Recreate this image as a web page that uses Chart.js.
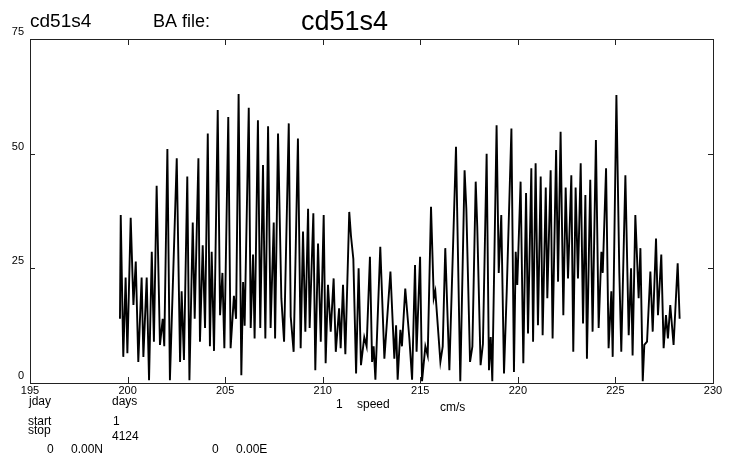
<!DOCTYPE html>
<html>
<head>
<meta charset="utf-8">
<script src="https://cdn.jsdelivr.net/npm/chart.js@4.4.0/dist/chart.umd.min.js"></script>
<style>
  body { margin: 0; background: #fff; }
  #wrap { width: 731px; height: 463px; }
</style>
</head>
<body>
<div id="wrap"><canvas id="chart"></canvas></div>
<script>
// speed record (day of year, cm/s)
const days = [
  199.61,199.65,199.78,199.90,199.99,200.16,200.30,200.42,200.55,200.72,200.81,200.98,201.10,201.24,201.35,201.49,201.66,201.80,201.88,202.04,202.17,202.52,202.69,202.77,202.89,203.06,203.17,203.34,203.44,203.63,203.71,203.85,203.97,204.11,204.22,204.31,204.43,204.62,204.74,204.86,204.96,205.16,
  205.28,205.45,205.56,205.69,205.83,205.92,206.00,206.21,206.31,206.43,206.51,206.68,206.80,206.94,207.06,207.20,207.33,207.49,207.56,207.71,207.88,208.02,208.26,208.36,208.51,208.73,208.87,208.99,209.11,209.25,209.33,209.52,209.62,209.76,209.90,210.05,210.15,210.27,210.41,210.56,210.67,210.84,210.92,211.04,211.16,
  211.36,211.45,211.57,211.71,211.84,211.96,212.13,212.25,212.42,212.53,212.61,212.70,212.95,213.16,213.47,213.67,213.76,213.84,213.98,214.06,214.23,214.44,214.58,214.73,214.81,214.99,215.09,215.26,215.38,215.55,215.69,215.77,216.03,216.15,216.28,216.49,216.83,217.05,
  217.27,217.36,217.55,217.67,217.84,217.92,218.09,218.21,218.40,218.52,218.61,218.69,218.91,219.02,219.15,219.29,219.43,219.67,219.80,219.89,219.97,220.14,220.28,220.42,220.52,220.69,220.78,220.91,221.03,221.17,221.27,221.43,221.51,221.68,221.78,221.96,222.06,222.19,222.33,222.45,222.57,222.74,222.84,222.96,223.08,223.22,223.34,
  223.46,223.54,223.71,223.83,224.00,224.14,224.28,224.35,224.52,224.65,224.79,224.86,225.05,225.20,225.30,225.51,225.68,225.80,225.88,226.02,226.19,226.28,226.40,226.48,226.62,226.79,226.91,227.08,227.18,227.35,227.47,227.59,227.69,227.81,227.98,228.19,228.29
];
const speed = [
  14,36.6,5.7,23,6.5,36,17,26.5,4.6,23,5.7,23,0.6,28.6,9,43,8.3,14,8,51,0.6,49,4.6,20,5,45,0.6,35,14,49,9,30,12,54.4,8,28.6,7,59.5,14.8,24,7.6,58,
  7.6,19,14,63,1.7,22,12.5,60,12,28,9.7,57.3,12,47.5,9.7,56,12,35,9.7,54.4,18.5,9,56.6,14.5,6.8,53.3,7.6,33,11.2,38,12,37,2.8,30.4,9,36.6,4.3,21.4,11.2,22.8,6.8,16.3,7.6,21.4,6.3,
  37.3,32,27,2.1,25,3.9,10,8,27.5,4.6,8,0.7,29.7,5.3,24.3,5.3,12.6,0.7,11.6,8,20.6,9.7,0.7,25.7,6.8,27.5,0.4,8,6,38.4,18.5,20,4.6,8,29.4,2.8,51.5,0.4,
  46.4,38,4.6,8,43.9,34,3.9,8.5,50,2.8,10,0.4,56.2,24,36.6,2.1,20,55.5,2.4,28.6,21.4,43.9,4.3,41.4,10.8,46.8,9,47.9,12.6,45,10.4,42.6,18.5,46.4,9.7,50.8,22.1,54.8,14.8,42.6,22.8,45.3,6.8,42.6,22.8,47.9,13,
  41,5.3,44.3,11.2,53,12,28.6,24,46.8,7.6,20,5.7,62.8,24,6.8,45.3,10.4,25,6,36.6,18.5,29.4,0.4,8.3,9,24.3,11.2,31.5,14.8,28,7.6,14.8,9.7,17,8.3,26.1,14
];

const xTicks = [195, 200, 205, 210, 215, 220, 225, 230];
const yTicks = [0, 25, 50, 75];

const FONT = '"Liberation Sans", Arial, sans-serif';

// header and footer annotations of the original plot
const headerText = [
  { t: 'cd51s4', x: 30, y: 27, size: 19 },
  { t: 'BA file:', x: 153, y: 27, size: 18 },
  { t: 'cd51s4', x: 301, y: 30, size: 27 }
];
const footerText = [
  { t: 'jday', x: 29, y: 405 },
  { t: 'days', x: 112, y: 405 },
  { t: '1', x: 336, y: 408 },
  { t: 'speed', x: 357, y: 408 },
  { t: 'cm/s', x: 440, y: 411 },
  { t: 'start', x: 28, y: 425 },
  { t: '1', x: 113, y: 425 },
  { t: 'stop', x: 28, y: 434 },
  { t: '4124', x: 112, y: 440 },
  { t: '0', x: 47, y: 453 },
  { t: '0.00N', x: 71, y: 453 },
  { t: '0', x: 212, y: 453 },
  { t: '0.00E', x: 236, y: 453 }
];

const framePlugin = {
  id: 'frame',
  beforeDraw(chart) {
    const ctx = chart.ctx;
    ctx.save();
    ctx.fillStyle = '#fff';
    ctx.fillRect(0, 0, chart.width, chart.height);
    ctx.restore();
  },
  afterDraw(chart) {
    const { ctx, chartArea: a, scales } = chart;
    ctx.save();
    ctx.strokeStyle = '#222';
    ctx.lineWidth = 1;
    ctx.strokeRect(a.left + 0.5, a.top + 0.5, a.right - a.left, a.bottom - a.top);

    // inward ticks on all four sides
    ctx.beginPath();
    xTicks.forEach(v => {
      const px = Math.round(scales.x.getPixelForValue(v)) + 0.5;
      ctx.moveTo(px, a.bottom); ctx.lineTo(px, a.bottom - 6);
      ctx.moveTo(px, a.top); ctx.lineTo(px, a.top + 6);
    });
    yTicks.forEach(v => {
      const py = Math.round(scales.y.getPixelForValue(v)) + 0.5;
      ctx.moveTo(a.left, py); ctx.lineTo(a.left + 5, py);
      ctx.moveTo(a.right, py); ctx.lineTo(a.right - 5, py);
    });
    ctx.stroke();

    ctx.fillStyle = '#000';
    ctx.textAlign = 'left';
    ctx.textBaseline = 'alphabetic';
    headerText.forEach(h => {
      ctx.font = h.size + 'px ' + FONT;
      ctx.fillText(h.t, h.x, h.y);
    });
    ctx.font = '12px ' + FONT;
    footerText.forEach(f => ctx.fillText(f.t, f.x, f.y));
    ctx.restore();
  }
};

new Chart(document.getElementById('chart'), {
  type: 'line',
  data: {
    datasets: [{
      data: days.map((d, i) => ({ x: d, y: speed[i] })),
      borderColor: '#000',
      borderWidth: 1.9,
      pointRadius: 0,
      tension: 0,
      fill: false
    }]
  },
  options: {
    responsive: true,
    maintainAspectRatio: false,
    animation: false,
    layout: { padding: { top: 39, right: 18, bottom: 60, left: 0 } },
    plugins: { legend: { display: false }, tooltip: { enabled: false } },
    scales: {
      x: {
        type: 'linear',
        min: 195,
        max: 230,
        afterBuildTicks: s => { s.ticks = xTicks.map(v => ({ value: v })); },
        afterFit: s => { s.height = 20; },
        ticks: { color: '#000', font: { family: FONT, size: 11 }, padding: 1, maxRotation: 0, autoSkip: false },
        grid: { display: false, drawTicks: false },
        border: { display: false }
      },
      y: {
        min: 0,
        max: 75,
        afterBuildTicks: s => { s.ticks = yTicks.map(v => ({ value: v })); },
        afterFit: s => { s.width = 30; },
        ticks: { color: '#000', font: { family: FONT, size: 11 }, padding: 6, labelOffset: -7 },
        grid: { display: false, drawTicks: false },
        border: { display: false }
      }
    }
  },
  plugins: [framePlugin]
});
</script>
</body>
</html>
